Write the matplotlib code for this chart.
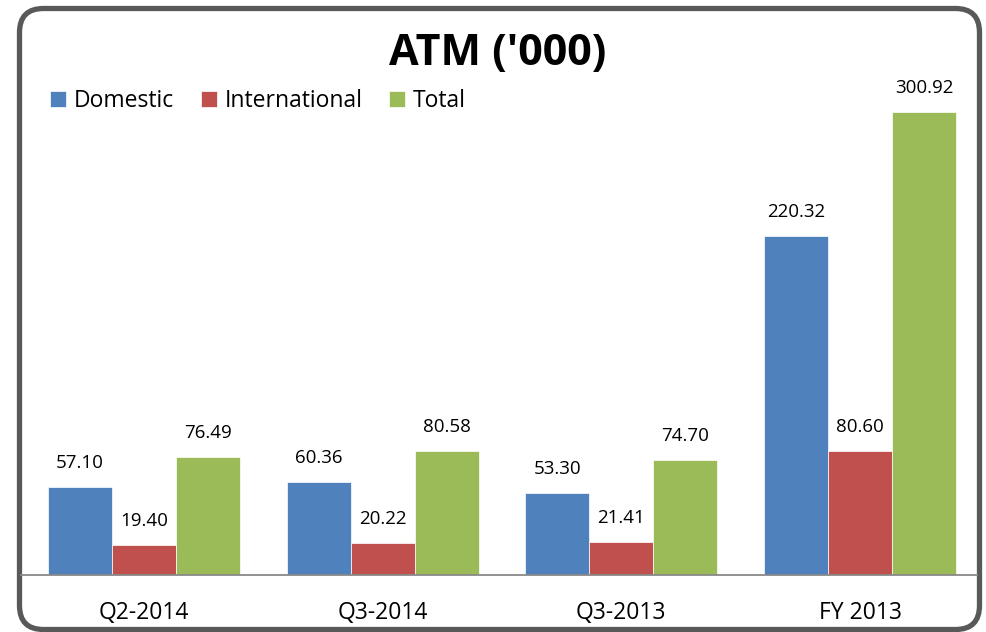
import matplotlib
matplotlib.use("Agg")
import matplotlib.pyplot as plt
from matplotlib.patches import FancyBboxPatch
import numpy as np

categories = ["Q2-2014", "Q3-2014", "Q3-2013", "FY 2013"]
domestic = [57.10, 60.36, 53.30, 220.32]
international = [19.40, 20.22, 21.41, 80.60]
total = [76.49, 80.58, 74.70, 300.92]
series_names = ["Domestic", "International", "Total"]
colors = ["#4F81BD", "#C0504D", "#9BBB59"]

W, H = 986, 632
plt.rcParams['font.family'] = ['Open Sans', 'DejaVu Sans']
fig = plt.figure(figsize=(W/100, H/100), dpi=100)

# background axes in pixel coordinates for the rounded border
bg = fig.add_axes([0, 0, 1, 1], zorder=-1)
bg.set_xlim(0, W)
bg.set_ylim(H, 0)
bg.axis("off")
bg.add_patch(FancyBboxPatch((19.5, 8.5), 979.5-19.5, 629.5-8.5,
                            boxstyle="round,pad=0,rounding_size=24",
                            facecolor="white", edgecolor="#595959", linewidth=3.8))

ax_left, ax_right = 21, 977
ax_bottom, ax_top = 574.5, 90
ax = fig.add_axes([ax_left/W, (H-ax_bottom)/H, (ax_right-ax_left)/W, (ax_bottom-ax_top)/H])
ax.set_facecolor("none")

x = np.arange(len(categories))
bw = 0.268
for i, (vals, name, c) in enumerate(zip([domestic, international, total], series_names, colors)):
    pos = x + (i-1)*bw
    ax.bar(pos, vals, width=bw, color=c, edgecolor="#ffffff", linewidth=0.5, label=name, zorder=2)
    for p, v in zip(pos, vals):
        ax.annotate(f"{v:.2f}", (p, v), xytext=(0, 17.3), textcoords="offset points",
                    ha="center", va="center", fontsize=13.5, color="#000000")

scale = (574.5-112)/300.92
ax.set_ylim(0, (ax_bottom-ax_top)/scale)
xmin = -0.515
ax.set_xlim(xmin, xmin + (ax_right-ax_left)/238.7)
ax.set_yticks([])
ax.set_xticks(x)
ax.set_xticklabels(categories, fontsize=16.5)
ax.tick_params(axis='x', length=0, pad=19)
for s in ["top", "right", "left"]:
    ax.spines[s].set_visible(False)
ax.spines["bottom"].set_color("#898989")
ax.spines["bottom"].set_linewidth(1.3)

fig.text(498/W, 1-54/H, "ATM ('000)", ha="center", va="center", fontsize=31, fontweight="bold")

leg = ax.legend(loc="center left", bbox_to_anchor=(50/W, 1-101/H), bbox_transform=fig.transFigure,
                ncol=3, frameon=False, fontsize=16.5, handlelength=0.7, handleheight=0.7,
                handletextpad=0.35, columnspacing=1.15, borderaxespad=0, borderpad=0)

fig.savefig("out.png", dpi=100)
